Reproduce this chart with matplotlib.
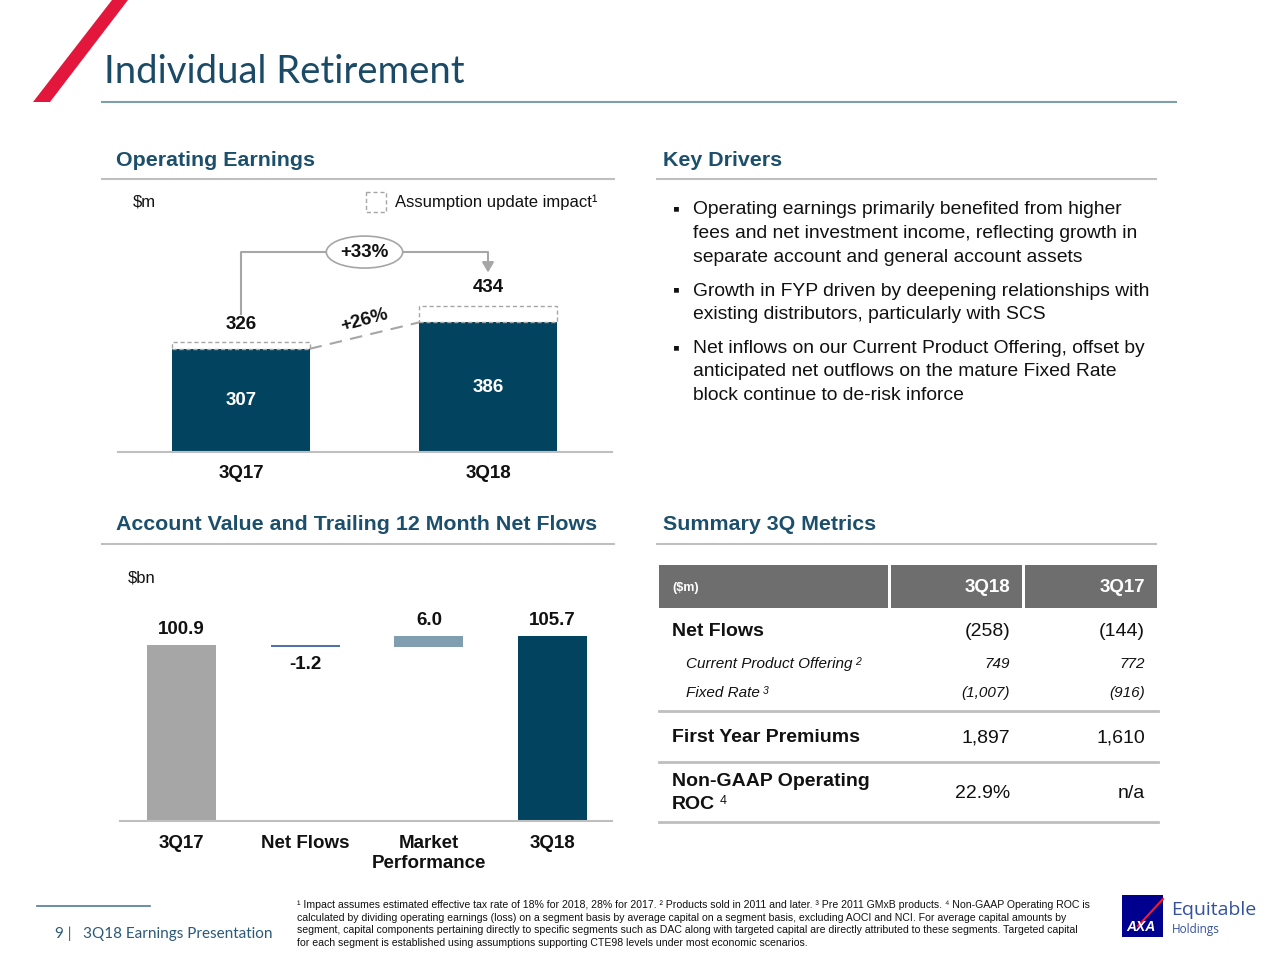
import matplotlib
matplotlib.use("Agg")
import matplotlib.pyplot as plt
from matplotlib.patches import Polygon, Rectangle

# ---------------- data ----------------
oe_categories = ["3Q17", "3Q18"]
oe_total = [326, 434]          # incl. assumption update impact
oe_base = [307, 386]           # excluding assumption update

wf_categories = ["3Q17", "Net Flows", "Market\nPerformance", "3Q18"]
wf_values = [100.9, -1.2, 6.0, 105.7]
wf_labels = ["100.9", "-1.2", "6.0", "105.7"]

drivers = [
    ["Operating earnings primarily benefited from higher",
     "fees and net investment income, reflecting growth in",
     "separate account and general account assets"],
    ["Growth in FYP driven by deepening relationships with",
     "existing distributors, particularly with SCS"],
    ["Net inflows on our Current Product Offering, offset by",
     "anticipated net outflows on the mature Fixed Rate",
     "block continue to de-risk inforce"],
]

tbl_cols = ["($m)", "3Q18", "3Q17"]
tbl_labels = ["Net Flows", "Current Product Offering", "Fixed Rate",
              "First Year Premiums", "Non-GAAP Operating\nROC"]
tbl_sup = ["", "2", "3", "", "4"]
tbl_3q18 = ["(258)", "749", "(1,007)", "1,897", "22.9%"]
tbl_3q17 = ["(144)", "772", "(916)", "1,610", "n/a"]

footnote = [
    "\u00b9 Impact assumes estimated effective tax rate of 18% for 2018, 28% for 2017. \u00b2 Products sold in 2011 and later. \u00b3 Pre 2011 GMxB products. \u2074 Non-GAAP Operating ROC is",
    "calculated by dividing operating earnings (loss) on a segment basis by average capital on a segment basis, excluding AOCI and NCI. For average capital amounts by",
    "segment, capital components pertaining directly to specific segments such as DAC along with targeted capital are directly attributed to these segments. Targeted capital",
    "for each segment is established using assumptions supporting CTE98 levels under most economic scenarios.",
]

# ---------------- style ----------------
SANS = ["Liberation Sans", "DejaVu Sans"]
NARROW = ["Liberation Sans Narrow", "Liberation Sans", "DejaVu Sans"]
TITLE_FONT = ["Lato", "DejaVu Sans"]
plt.rcParams["font.family"] = SANS

DARK = "#02435F"
HEAD = "#1C4F6C"
GREY_LINE = "#BFBFBF"
TXT = "#111111"

W, H = 1280, 960
fig = plt.figure(figsize=(12.8, 9.6), dpi=100)
fig.patch.set_facecolor("white")

bg = fig.add_axes([0, 0, 1, 1])
bg.set_xlim(0, W)
bg.set_ylim(H, 0)
bg.axis("off")
bg.set_zorder(0)


def px_axes(x0, y0, x1, y1):
    ax = fig.add_axes([x0 / W, 1 - y1 / H, (x1 - x0) / W, (y1 - y0) / H])
    ax.set_facecolor("none")
    ax.set_zorder(2)
    return ax


# ---------------- title area ----------------
bg.add_patch(Polygon([(33, 102), (50, 102), (128, 0), (112, 0)], closed=True,
                     color="#E3173C", lw=0))
bg.text(104, 72, "Individual Retirement", fontsize=27.5, color="#1B4A66",
        family=TITLE_FONT, va="center", ha="left")
bg.plot([102, 1176], [102, 102], color="#7F9EAE", lw=1.5)

# section headers
for (x, y, t, l0, l1) in [(116, 160, "Operating Earnings", 102, 614),
                          (663, 160, "Key Drivers", 657, 1156),
                          (116, 525, "Account Value and Trailing 12 Month Net Flows", 102, 614),
                          (663, 525, "Summary 3Q Metrics", 657, 1156)]:
    bg.text(x, y, t, fontsize=15.4, fontweight="bold", color=HEAD, va="center", ha="left")
    bg.plot([l0, l1], [y + 19, y + 19], color=GREY_LINE, lw=1.5)

# ---------------- Operating earnings chart ----------------
ax1 = px_axes(118, 180, 612, 452)
xs = list(range(len(oe_categories)))
bw = 0.555
impact = [t - b for t, b in zip(oe_total, oe_base)]
ax1.bar(xs, oe_base, width=bw, color=DARK, zorder=2)
ax1.bar(xs, impact, bottom=oe_base, width=bw, fill=False, edgecolor="#A6A6A6",
        linestyle=(0, (3, 2)), lw=1, zorder=3)
ax1.set_xlim(-0.498, 1.502)
ax1.set_ylim(0, 809.5)
for s in ["top", "right", "left"]:
    ax1.spines[s].set_visible(False)
ax1.spines["bottom"].set_color(GREY_LINE)
ax1.spines["bottom"].set_linewidth(1.5)
ax1.set_yticks([])
ax1.set_xticks(xs)
ax1.set_xticklabels(oe_categories, fontsize=13.5, fontweight="bold", color=TXT)
ax1.tick_params(axis="x", length=0, pad=9)

for x, t, b in zip(xs, oe_total, oe_base):
    ax1.annotate(f"{t}", (x, t), xytext=(0, 7), textcoords="offset points",
                 ha="center", va="bottom", fontsize=13.5, fontweight="bold", color=TXT)
    ax1.text(x, b / 2, f"{b}", ha="center", va="center", fontsize=13.5,
             fontweight="bold", color="white")

# dashed growth line (excl. impact)
ax1.plot([xs[0] + bw / 2, xs[1] - bw / 2], [oe_base[0], oe_base[1]],
         color="#A6A6A6", lw=1.5, linestyle=(0, (6, 4)), zorder=1)
g_base = (oe_base[1] / oe_base[0] - 1) * 100
ax1.text(0.5, (oe_base[0] + oe_base[1]) / 2 + 46, f"+{g_base:.0f}%", rotation=15,
         ha="center", va="center", fontsize=13.5, fontweight="bold", color=TXT)

# bracket with +33%
g_tot = (oe_total[1] / oe_total[0] - 1) * 100
top_y = 595
ax1.plot([xs[0], xs[0], xs[1], xs[1]],
         [oe_total[0] + 84, top_y, top_y, oe_total[1] + 125],
         color="#A6A6A6", lw=1.5, zorder=1)
ax1.annotate("", xy=(xs[1], oe_total[1] + 92), xytext=(xs[1], oe_total[1] + 130),
             arrowprops=dict(arrowstyle="-|>,head_width=0.35,head_length=0.6",
                             color="#A6A6A6", lw=1.5))
ax1.text(0.5, top_y, f"+{g_tot:.0f}%", ha="center", va="center", fontsize=13.5,
         fontweight="bold", color=TXT, zorder=4,
         bbox=dict(boxstyle="ellipse,pad=0.15", fc="white", ec="#A6A6A6", lw=1.2))

# $m and legend
bg.text(133, 202, "$m", fontsize=12, color=TXT, va="center", ha="left")
bg.add_patch(Rectangle((366, 192), 20, 20, fill=False, ec="#A6A6A6",
                       ls=(0, (3, 2)), lw=1))
bg.text(395, 202, "Assumption update impact\u00b9", fontsize=12, color=TXT,
        va="center", ha="left")

# ---------------- Key drivers ----------------
y = 210
for para in drivers:
    bg.text(676, y, "\u25aa", fontsize=14, color=TXT, va="center", ha="center",
            family=SANS)
    for line in para:
        bg.text(693, y, line, fontsize=13.9, color=TXT, va="center", ha="left")
        y += 23.5
    y += 10.5

# ---------------- Waterfall ----------------
ax2 = px_axes(120, 560, 612, 821)
wx = list(range(len(wf_categories)))
bottoms, heights = [], []
run = 0.0
for i, v in enumerate(wf_values):
    if i == 0 or i == len(wf_values) - 1:
        bottoms.append(0)
        heights.append(v)
        run = v
    else:
        nb = run + v
        bottoms.append(min(run, nb))
        heights.append(abs(v))
        run = nb
colors = ["#A6A6A6", "#4F72A8", "#7F9FB1", DARK]
wbw = 0.558
ax2.bar(wx, heights, bottom=bottoms, width=wbw, color=colors, zorder=2)
ax2.set_xlim(-0.497, 3.48)
ax2.set_ylim(0, 149.3)
for s in ["top", "right", "left"]:
    ax2.spines[s].set_visible(False)
ax2.spines["bottom"].set_color(GREY_LINE)
ax2.spines["bottom"].set_linewidth(1.5)
ax2.set_yticks([])
ax2.set_xticks(wx)
ax2.set_xticklabels(wf_categories, fontsize=13.5, fontweight="bold", color=TXT,
                    linespacing=1.25, va="top")
ax2.tick_params(axis="x", length=0, pad=10)
for i, (v, lab) in enumerate(zip(wf_values, wf_labels)):
    if v < 0:
        ax2.annotate(lab, (i, bottoms[i]), xytext=(0, -7), textcoords="offset points",
                     ha="center", va="top", fontsize=13.5, fontweight="bold", color=TXT)
    else:
        ax2.annotate(lab, (i, bottoms[i] + heights[i]), xytext=(0, 5),
                     textcoords="offset points", ha="center", va="bottom",
                     fontsize=13.5, fontweight="bold", color=TXT)
bg.text(128, 578, "$bn", fontsize=12, color=TXT, va="center", ha="left")

# ---------------- Table ----------------
HDR = "#6E6E6E"
col_x = [(659, 888), (891, 1022), (1025, 1157)]
for (a, b) in col_x:
    bg.add_patch(Rectangle((a, 565), b - a, 43, color=HDR, lw=0))
bg.text(672, 588, tbl_cols[0], fontsize=9, fontweight="bold", color="white",
        va="center", ha="left")
bg.text(1010, 588, tbl_cols[1], fontsize=13.5, fontweight="bold", color="white",
        va="center", ha="right")
bg.text(1145, 588, tbl_cols[2], fontsize=13.5, fontweight="bold", color="white",
        va="center", ha="right")

row_y = [632, 664, 693, 738, 793]
row_style = ["bold", "italic", "italic", "bold", "bold"]
for lab, sup, v18, v17, ry, st in zip(tbl_labels, tbl_sup, tbl_3q18, tbl_3q17,
                                        row_y, row_style):
    if st == "italic":
        t = bg.text(686, ry, lab, fontsize=11, style="italic", color=TXT,
                    va="center", ha="left")
        bg.annotate(sup, xy=(1, 1), xycoords=t, xytext=(2, 0),
                    textcoords="offset points", fontsize=7.5, style="italic",
                    va="top", ha="left", color=TXT)
        bg.text(1010, ry, v18, fontsize=11, style="italic", color=TXT,
                va="center", ha="right")
        bg.text(1145, ry, v17, fontsize=11, style="italic", color=TXT,
                va="center", ha="right")
    else:
        lines = lab.split("\n")
        n = len(lines)
        t = None
        for k, ln in enumerate(lines):
            ly = ry + (k - (n - 1) / 2) * 23
            t = bg.text(672, ly, ln, fontsize=14, fontweight="bold", color=TXT,
                        va="center", ha="left")
        if sup:
            bg.annotate(sup, xy=(1, 1), xycoords=t, xytext=(3, 1),
                        textcoords="offset points", fontsize=9, va="top",
                        ha="left", color=TXT)
        bg.text(1010, ry, v18, fontsize=14, color=TXT, va="center", ha="right")
        bg.text(1145, ry, v17, fontsize=14, color=TXT, va="center", ha="right")

for ly in [711, 762, 822]:
    bg.plot([659, 1158], [ly, ly], color=GREY_LINE, lw=2)

# ---------------- Footer ----------------
bg.plot([37, 150], [906, 906], color="#4F7A94", lw=1.2)
bg.text(55, 934, "9 |   3Q18 Earnings Presentation", fontsize=11, color="#2A5A78",
        family=TITLE_FONT, va="center", ha="left")
for i, line in enumerate(footnote):
    bg.text(297, 905 + i * 12.6, line, fontsize=7.6, color=TXT, va="center",
            ha="left", family=NARROW)

# logo
bg.add_patch(Rectangle((1122, 895), 41, 42, color="#00008F", lw=0))
bg.plot([1138, 1163], [926, 899], color="#FF1721", lw=1.5)
bg.text(1141, 927, "AXA", fontsize=10, fontweight="bold", style="italic",
        color="white", va="center", ha="center")
bg.text(1171, 910, "Equitable", fontsize=14, color="#3450A0", va="center",
        ha="left", family=["Open Sans", "DejaVu Sans"])
bg.text(1172, 929, "Holdings", fontsize=8.5, color="#3450A0", va="center",
        ha="left", family=["Open Sans", "DejaVu Sans"])

fig.savefig("out.png", dpi=100, facecolor="white")
